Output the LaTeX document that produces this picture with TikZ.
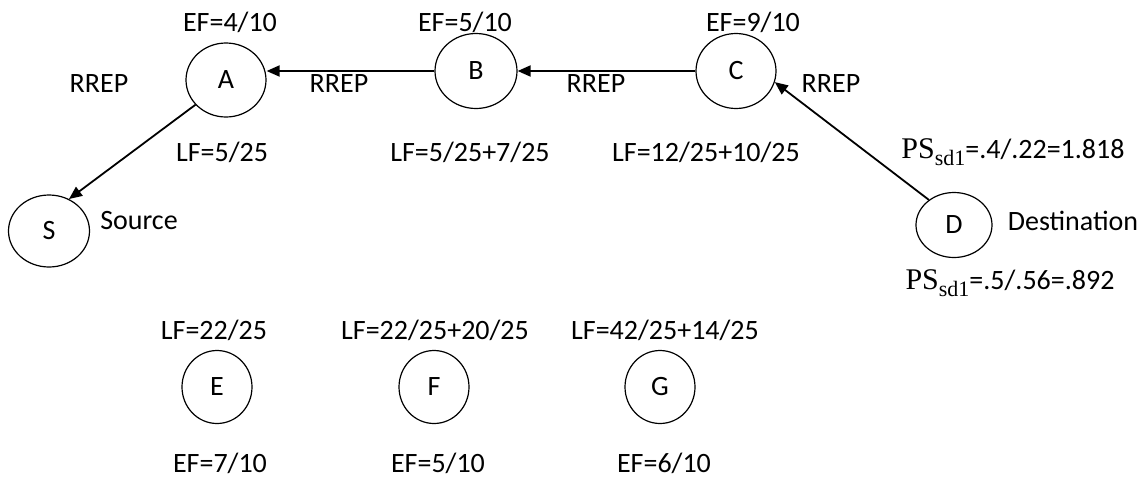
\documentclass[tikz,border=0pt]{standalone}
\usepackage{fontspec}
\setmainfont{Carlito}
\newfontfamily\psf{Liberation Serif}
\usetikzlibrary{shapes.geometric,arrows.meta}
\newcommand{\PSsd}{{\psf\fontsize{15}{17}\selectfont PS\raisebox{-0.55ex}{\fontsize{11}{12}\selectfont sd1}}}
\begin{document}
\begin{tikzpicture}[x=0.5pt,y=-0.5pt,
  nd/.style={draw,ellipse,line width=0.6pt,inner sep=0pt},
  lbl/.style={inner sep=0pt,font=\fontsize{14}{17}\selectfont},
  arr/.style={line width=0.9pt,-{Triangle[length=6.5pt,width=5.5pt]}}]
\useasboundingbox (0,0) rectangle (1146,477);
\tikzset{every node/.append style={font=\fontsize{14}{17}\selectfont}}
% nodes
\node[nd,minimum width=40pt,minimum height=37pt] (A) at (226,80) {A};
\node[nd,minimum width=41pt,minimum height=37.5pt] (B) at (476,71) {B};
\node[nd,minimum width=40pt,minimum height=37.5pt] (C) at (736,71) {C};
\node[nd,minimum width=38pt,minimum height=32.5pt] (D) at (954,225) {D};
\node[nd,minimum width=40.5pt,minimum height=36pt] (S) at (49,231) {S};
\node[nd,minimum width=35pt,minimum height=36.5pt] (E) at (217,387) {E};
\node[nd,minimum width=35pt,minimum height=36.5pt] (F) at (434,387) {F};
\node[nd,minimum width=35pt,minimum height=36.5pt] (G) at (660,387) {G};
% labels
\node[lbl] (efA) at (230,22) {EF=4/10};
\node[lbl] (efB) at (465,22) {EF=5/10};
\node[lbl] (efC) at (753,22) {EF=9/10};
\node[lbl] (r0) at (99,84) {RREP};
\node[lbl] (r1) at (339,84) {RREP};
\node[lbl] (r2) at (596,84) {RREP};
\node[lbl] (r3) at (831,84) {RREP};
\node[lbl] (lfA) at (222,152) {LF=5/25};
\node[lbl] (lfB) at (470,152) {LF=5/25+7/25};
\node[lbl] (lfC) at (706,152) {LF=12/25+10/25};
\node[lbl] (src) at (139,221) {Source};
\node[lbl] (dst) at (1073,221) {Destination};
\node[lbl] (ps1) at (1013,152) {\PSsd=.4/.22=1.818};
\node[lbl] (ps2) at (1010,283) {\PSsd=.5/.56=.892};
\node[lbl] (lfE) at (214,330) {LF=22/25};
\node[lbl] (lfF) at (435,330) {LF=22/25+20/25};
\node[lbl] (lfG) at (665,330) {LF=42/25+14/25};
\node[lbl] (efE) at (220,463) {EF=7/10};
\node[lbl] (efF) at (438,463) {EF=5/10};
\node[lbl] (efG) at (664,463) {EF=6/10};
% connectors
\draw[arr] (B.west) -- (B.west -| A.east);
\draw[arr] (C.west) -- (B.east);
\draw[arr] (D.135) -- (C.-16);
\draw[arr] (A.219) -- (S.58);
\end{tikzpicture}
\end{document}
